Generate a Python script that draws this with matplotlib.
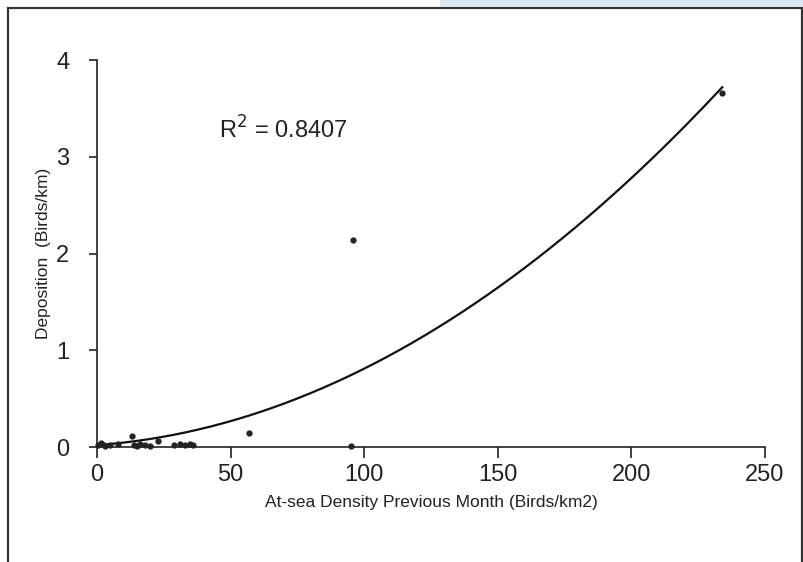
import numpy as np
import matplotlib.pyplot as plt
from matplotlib.patches import Rectangle

plt.rcParams['font.family'] = ['Liberation Sans', 'DejaVu Sans']

# at-sea density previous month (birds/km2) vs deposition (birds/km)
density = [0.5, 1.5, 2.0, 3.0, 5.0, 8.0, 13.0, 14.0, 15.0, 16.0, 18.0, 20.0,
           23.0, 29.0, 31.0, 33.0, 35.0, 36.0, 57.0, 95.0, 96.0, 234.0]
deposition = [0.02, 0.04, 0.03, 0.01, 0.02, 0.03, 0.11, 0.02, 0.01, 0.03, 0.02, 0.01,
              0.06, 0.02, 0.03, 0.02, 0.03, 0.02, 0.15, 0.01, 2.14, 3.66]
# polynomial trendline (a*x^2 + b*x + c)
trend_coef = [5.9e-5, 0.002, 0.02]
r2_text = 'R$^2$ = 0.8407'

x = np.array(density)
y = np.array(deposition)

xs = np.linspace(x.min(), x.max(), 200)
ys = np.polyval(trend_coef, xs)

fig = plt.figure(figsize=(8.04, 5.62), dpi=100)
ax = fig.add_axes([0.1206, 0.2046, 0.8309, 0.6886])

# outer frame of the scanned figure
fig.patches.append(Rectangle((8/804, -0.05), 794/804, 1.05 - 8/562, transform=fig.transFigure,
                             fill=False, edgecolor='#333333', linewidth=1.6))
fig.patches.append(Rectangle((440/804, 1 - 7/562), 364/804, 7/562, transform=fig.transFigure,
                             facecolor='#dbe6f3', edgecolor='none'))

ax.plot(xs, ys, color='#111111', linewidth=1.6, clip_on=False)
ax.plot(x, y, 'o', color='#222222', markersize=3.5, clip_on=False)

ax.set_xlim(0, 250)
ax.set_ylim(0, 4)
ax.set_xticks([0, 50, 100, 150, 200, 250])
ax.set_yticks([0, 1, 2, 3, 4])

for s in ['top', 'right']:
    ax.spines[s].set_visible(False)
for s in ['left', 'bottom']:
    ax.spines[s].set_linewidth(1.2)
    ax.spines[s].set_color('#222222')

ax.tick_params(axis='x', direction='out', length=8, width=1.2, pad=4, labelsize=17, colors='#222222')
ax.tick_params(axis='y', direction='out', length=6, width=1.2, pad=14, labelsize=17, colors='#222222')

ax.set_xlabel('At-sea Density Previous Month (Birds/km2)', fontsize=12.5, labelpad=7, color='#222222')
ax.set_ylabel('Deposition  (Birds/km)', fontsize=12.5, labelpad=4, color='#222222')

ax.text(0.182, 0.82, r2_text, transform=ax.transAxes, fontsize=17, va='center', ha='left',
        color='#222222')

fig.savefig('out.png', dpi=100)
